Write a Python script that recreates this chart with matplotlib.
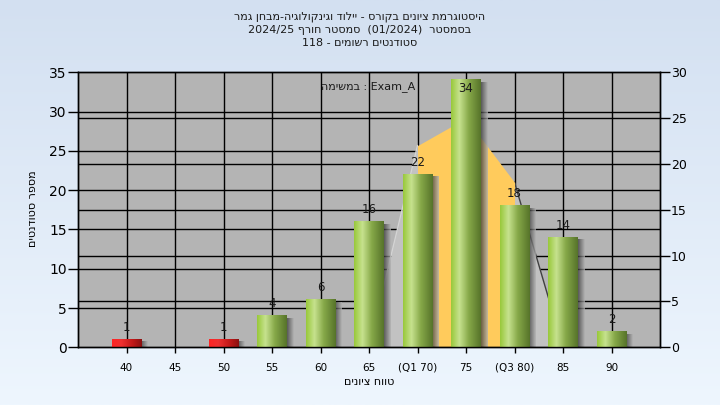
import re
import numpy as np
import matplotlib
matplotlib.use("Agg")
import matplotlib.pyplot as plt
from matplotlib.colors import LinearSegmentedColormap

# ---------------- data ----------------
categories = ["40", "45", "50", "55", "60", "65", "(Q1 70)", "75", "(Q3 80)", "85", "90"]
counts = [1, 0, 1, 4, 6, 16, 22, 34, 18, 14, 2]
fail_flags = [True, True, True, False, False, False, False, False, False, False, False]
curve_values = [0, 0, 0, 0, 0, 0, 22, 25, 18, 0, 0]   # right axis distribution area
q1_index, q3_index = 6, 8
left_ticks = [0, 5, 10, 15, 20, 25, 30, 35]
right_ticks = [0, 5, 10, 15, 20, 25, 30]
title_lines = ["היסטוגרמת ציונים בקורס - יילוד וגינקולוגיה-מבחן גמר",
               "בסמסטר  (01/2024)  סמסטר חורף 2024/25",
               "סטודנטים רשומים - 118"]
xlabel = "טווח ציונים"
ylabel = "מספר סטודנטים"
task_label = "במשימה"
task_name = "Exam_A"


def vis(s):
    """Convert logical RTL text to visual order for LTR rendering."""
    r = s[::-1]
    r = re.sub(r"[0-9A-Za-z_/().:]+(?: [0-9A-Za-z_/().:]+)*",
               lambda m: m.group(0)[::-1], r)
    return r


# ---------------- figure ----------------
fig = plt.figure(figsize=(7.2, 4.05), dpi=100)

bg = fig.add_axes([0, 0, 1, 1], zorder=-10)
grad = np.linspace(0, 1, 256).reshape(-1, 1)
bg_cmap = LinearSegmentedColormap.from_list("bg", ["#d3e0f1", "#eef6fe"])
bg.imshow(grad, aspect="auto", cmap=bg_cmap, extent=[0, 1, 0, 1], origin="upper")
bg.set_axis_off()

ax = fig.add_axes([78 / 720, 1 - 347.3 / 405, (660 - 78) / 720, (347.3 - 72.3) / 405])
ax.set_facecolor("#b4b4b4")
n = len(categories)
xs = np.arange(n)
ymax_left, ymax_right = 35, 30

# grid lines
for t in left_ticks[1:-1]:
    ax.axhline(t, color="black", lw=1, zorder=1)
for t in right_ticks[1:-1]:
    ax.axhline(t * ymax_left / ymax_right, color="black", lw=1, zorder=1)
for x in xs:
    ax.axvline(x, color="black", lw=1, zorder=1)

# distribution area (right axis scale)
scale = ymax_left / ymax_right
cv = np.array(curve_values, dtype=float) * scale
ax.fill_between(xs[5:7], 0, cv[5:7], color="#c2c2c2", zorder=2, lw=0)
ax.fill_between(xs[8:10], 0, cv[8:10], color="#c2c2c2", zorder=2, lw=0)
ax.plot(xs[5:7], cv[5:7], color="#d4d4d4", lw=1, zorder=2.1)
ax.plot(xs[8:10], cv[8:10], color="#404040", lw=1, zorder=2.1)
ax.fill_between(xs[q1_index:q3_index + 1], 0, cv[q1_index:q3_index + 1],
                color="#ffcb5c", zorder=2.2, lw=0)

# bars with cylinder gradient
green_cmap = LinearSegmentedColormap.from_list(
    "g", [(0, "#98c83a"), (0.28, "#c6e28e"), (0.6, "#86a848"), (1, "#56732a")])
red_cmap = LinearSegmentedColormap.from_list(
    "r", [(0, "#ff2424"), (0.3, "#f03030"), (0.7, "#c01818"), (1, "#8a1010")])
shadow_cmap = LinearSegmentedColormap.from_list(
    "s", [(0, "#3a3a3a"), (1, "#b4b4b4")])
bw = 0.61
hgrad = np.linspace(0, 1, 128).reshape(1, -1)
for x, v, f in zip(xs, counts, fail_flags):
    if v <= 0:
        continue
    x0 = x - bw / 2
    top = min(v, ymax_left)
    sw = 0.13
    ax.imshow(hgrad, cmap=shadow_cmap, aspect="auto", alpha=0.75,
              extent=[x0 + bw, x0 + bw + sw, 0, top - 0.35], zorder=2.5)
    ax.imshow(hgrad, cmap=red_cmap if f else green_cmap, aspect="auto",
              extent=[x0, x0 + bw, 0, top], zorder=3)
    ax.text(x, min(v + 1.55, 33.0), str(v), ha="center", va="center",
            fontsize=8.5, color="#1a1a1a", zorder=5)

ax.set_xlim(-1, n)
ax.set_ylim(0, ymax_left)

ax.set_xticks(xs)
ax.set_xticklabels(categories, fontsize=7.5)
ax.set_yticks(left_ticks)
ax.tick_params(axis="y", labelsize=10, length=7, width=1, pad=1, colors="black")
ax.tick_params(axis="x", length=4, width=1, pad=7, colors="black")
for sp in ax.spines.values():
    sp.set_linewidth(1)
    sp.set_color("black")

ax2 = ax.twinx()
ax2.set_ylim(0, ymax_right)
ax2.set_yticks(right_ticks)
ax2.tick_params(axis="y", labelsize=9, length=7, width=1, pad=1, colors="black")
for sp in ax2.spines.values():
    sp.set_linewidth(1)

ax.text(0.5, -0.125, vis(xlabel), transform=ax.transAxes, ha="center", va="center",
        fontsize=8)
fig.text(33 / 720, 1 - 209 / 405, vis(ylabel), rotation=90, ha="center", va="center",
         fontsize=8)

ax.text(0.498, 0.949, vis(task_label) + " : " + task_name, transform=ax.transAxes,
        ha="center", va="center", fontsize=8, color="#1a1a1a", zorder=6)

for i, line in enumerate(title_lines):
    fig.text(0.5, 1 - (17 + 13 * i) / 405, vis(line), ha="center", va="center",
             fontsize=8, color="#1a1a1a")

fig.savefig("out.png", dpi=100)
